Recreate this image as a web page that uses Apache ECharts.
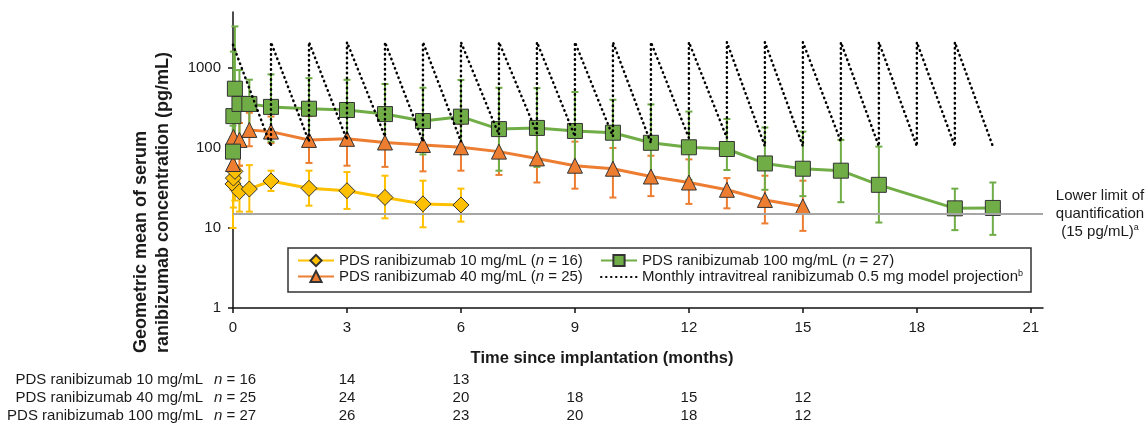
<!DOCTYPE html>
<html>
<head>
<meta charset="utf-8">
<script src="https://cdn.jsdelivr.net/npm/echarts@6/dist/echarts.min.js"></script>
<style>
html, body { margin: 0; background: #fff; }
#main { width: 1147px; height: 427px; }
</style>
</head>
<body>
<div id="main"></div>
<script>
// PDS ranibizumab 10 mg/mL  (months, geometric mean pg/mL, error bar low / high)
let t10 = [0, 0.01, 0.05, 0.17, 0.43, 1, 2, 3, 4, 5, 6];
let mean10 = [35.5, 42, 51, 28.4, 30.7, 38.7, 31.3, 29.2, 24.1, 20, 19.4];
let lo10 = [10, 18, 22, 16, 16, 29, 19, 17.3, 13.2, 10.2, 12];
let hi10 = [55, 62, 75, 60, 61, 52, 52, 50, 45, 39, 31];

// PDS ranibizumab 40 mg/mL
let t40 = [0, 0.01, 0.17, 0.43, 1, 2, 3, 4, 5, 6, 7, 8, 9, 10, 11, 12, 13, 14, 15];
let mean40 = [63, 137, 126, 168, 160, 126, 130, 117, 109, 102, 90, 74, 60, 55, 44, 37, 30, 22.4, 18.6];
let lo40 = [30, 60, 60, 105, 115, 65, 60, 58, 51, 52, 46, 37, 31, 24, 25, 20, 17.6, 11.4, 9.2];
let hi40 = [100, 300, 205, 275, 247, 250, 245, 230, 210, 200, 175, 145, 120, 100, 80, 72, 42, 45, 39];

// PDS ranibizumab 100 mg/mL
let t100 = [0, 0.01, 0.05, 0.17, 0.43, 1, 2, 3, 4, 5, 6, 7, 8, 9, 10, 11, 12, 13, 14, 15, 16, 17, 19, 20];
let mean100 = [90, 250, 550, 355, 355, 326, 309, 298, 265, 217, 246, 172, 178, 163, 155, 116, 102, 97, 64, 55, 52, 34.6, 17.6, 17.8];
let lo100 = [45, 120, 110, 130, 150, 120, 125, 115, 120, 83, 87, 52, 58, 60, 55, 45, 40, 53, 30, 25, 21, 11.7, 9.4, 8.2];
let hi100 = [190, 1600, 3300, 940, 713, 830, 745, 710, 630, 565, 708, 565, 560, 500, 400, 350, 285, 230, 180, 160, 126, 104, 31, 37];

// monthly intravitreal model projection: peak right after each injection, trough before the next
let modelMonth = [0, 1, 2, 3, 4, 5, 6, 7, 8, 9, 10, 11, 12, 13, 14, 15, 16, 17, 18, 19, 20];
let modelPeak = [1950, 2100, 2100, 2100, 2100, 2100, 2100, 2100, 2100, 2100, 2100, 2100, 2100, 2100, 2100, 2100, 2100, 2100, 2100, 2100, null];
let modelTrough = [null, 105, 120, 126, 139, 120, 120, 146, 153, 139, 139, 115, 133, 133, 105, 105, 120, 105, 105, 105, 105];

let lloq = 15;
let xTicks = [0, 3, 6, 9, 12, 15, 18, 21];
let yTicks = [1, 10, 100, 1000];

// numbers at risk table
let tableRows = ['PDS ranibizumab 10 mg/mL', 'PDS ranibizumab 40 mg/mL', 'PDS ranibizumab 100 mg/mL'];
let tableN0 = [16, 25, 27];
let tableMonths = [3, 6, 9, 12, 15];
let tableCounts = [
    [14, 13],
    [24, 20, 18, 15, 12],
    [26, 23, 20, 18, 12]
];

let name10 = 'PDS ranibizumab 10 mg/mL (n = 16)';
let name40 = 'PDS ranibizumab 40 mg/mL (n = 25)';
let name100 = 'PDS ranibizumab 100 mg/mL (n = 27)';
let nameModel = 'Monthly intravitreal ranibizumab 0.5 mg model projection';

let font = '"Liberation Sans", Arial, sans-serif';
let ink = '#1a1a1a';

let modelData = [];
for (let i = 0; i < modelMonth.length; i++) {
    if (modelTrough[i] != null) modelData.push([modelMonth[i], modelTrough[i]]);
    if (modelPeak[i] != null) modelData.push([modelMonth[i], modelPeak[i]]);
}

function pairs(t, v) { return t.map((x, i) => [x, v[i]]); }
function bars(t, lo, hi) { return t.map((x, i) => [x, lo[i], hi[i]]); }

function errBar(params, api) {
    let x = api.value(0);
    let top = api.coord([x, api.value(2)]);
    let bot = api.coord([x, api.value(1)]);
    let w = 3.5;
    let style = { stroke: api.visual('color'), lineWidth: 2 };
    return {
        type: 'group',
        children: [
            { type: 'line', shape: { x1: top[0], y1: top[1], x2: bot[0], y2: bot[1] }, style: style },
            { type: 'line', shape: { x1: top[0] - w, y1: top[1], x2: top[0] + w, y2: top[1] }, style: style },
            { type: 'line', shape: { x1: bot[0] - w, y1: bot[1], x2: bot[0] + w, y2: bot[1] }, style: style }
        ]
    };
}

let rich = {
    i: { fontStyle: 'italic', fontSize: 15, fontFamily: font, color: ink },
    sup: { fontSize: 9, fontFamily: font, color: ink, verticalAlign: 'top', padding: [0, 0, 7, 0] }
};

function legendFmt(name) {
    if (name === nameModel) return name + '{sup|b}';
    return name.replace('(n', '({i|n}');
}

let legendBase = {
    orient: 'vertical',
    top: 248,
    itemGap: 1,
    itemWidth: 36,
    itemHeight: 14,
    formatter: legendFmt,
    textStyle: { fontSize: 15, fontFamily: font, color: ink, rich: rich }
};

let option = {
    animation: false,
    backgroundColor: '#fff',
    grid: { left: 233, right: 104, top: 12, bottom: 119 },
    legend: [
        Object.assign({ left: 292, data: [name10, name40] }, legendBase),
        Object.assign({ left: 595, data: [name100, { name: nameModel, itemStyle: { opacity: 0 } }] }, legendBase)
    ],
    xAxis: {
        type: 'value',
        min: 0,
        max: 21.32,
        splitLine: { show: false },
        axisLine: { lineStyle: { color: '#111', width: 1.5 } },
        axisTick: { length: 5, customValues: xTicks, lineStyle: { color: '#111', width: 1.5 } },
        axisLabel: { customValues: xTicks, margin: 12, fontSize: 15, fontFamily: font, color: ink }
    },
    yAxis: {
        type: 'log',
        logBase: 10,
        min: 1,
        max: 5000,
        splitLine: { show: false },
        axisLine: { show: true, lineStyle: { color: '#111', width: 1.5 } },
        axisTick: { show: true, length: 5, customValues: yTicks, lineStyle: { color: '#111', width: 1.5 } },
        axisLabel: {
            customValues: yTicks, margin: 12, fontSize: 15, fontFamily: font, color: ink,
            formatter: v => String(Math.round(v))
        }
    },
    series: [
        {
            name: 'err10', type: 'custom', renderItem: errBar, data: bars(t10, lo10, hi10),
            encode: { x: 0, y: [1, 2] }, itemStyle: { color: '#FFC000' }, z: 1, silent: true,
            markLine: {
                silent: true, symbol: 'none', animation: false,
                label: { show: false },
                lineStyle: { color: '#A6A6A6', width: 2, type: 'solid' },
                data: [{ yAxis: lloq }]
            }
        },
        {
            name: 'err40', type: 'custom', renderItem: errBar, data: bars(t40, lo40, hi40),
            encode: { x: 0, y: [1, 2] }, itemStyle: { color: '#ED7D31' }, z: 1, silent: true
        },
        {
            name: 'err100', type: 'custom', renderItem: errBar, data: bars(t100, lo100, hi100),
            encode: { x: 0, y: [1, 2] }, itemStyle: { color: '#70AD47' }, z: 1, silent: true
        },
        {
            name: name10, type: 'line', data: pairs(t10, mean10), z: 3,
            symbol: 'diamond', symbolSize: 16, showAllSymbol: true,
            lineStyle: { color: '#FFC000', width: 3 },
            itemStyle: { color: '#FFC000', borderColor: '#333', borderWidth: 1 }
        },
        {
            name: name40, type: 'line', data: pairs(t40, mean40), z: 3,
            symbol: 'triangle', symbolSize: 15, showAllSymbol: true,
            lineStyle: { color: '#ED7D31', width: 3 },
            itemStyle: { color: '#ED7D31', borderColor: '#333', borderWidth: 1 }
        },
        {
            name: name100, type: 'line', data: pairs(t100, mean100), z: 3,
            symbol: 'rect', symbolSize: 15, showAllSymbol: true,
            lineStyle: { color: '#70AD47', width: 3 },
            itemStyle: { color: '#70AD47', borderColor: '#333', borderWidth: 1 }
        },
        {
            name: nameModel, type: 'line', data: modelData, z: 5,
            symbol: 'none',
            lineStyle: { color: '#000', width: 2.5, type: [0.5, 4.5], cap: 'round' },
            itemStyle: { color: '#000' }
        }
    ]
};

let chart = echarts.init(document.getElementById('main'));
chart.setOption(option);

let gx = m => chart.convertToPixel({ xAxisIndex: 0 }, m);
let gy = v => chart.convertToPixel({ yAxisIndex: 0 }, v);

let graphics = [
    {
        type: 'rect', z: 0,
        shape: { x: 288, y: 248, width: 743, height: 44 },
        style: { fill: '#fff', stroke: '#333', lineWidth: 1.5 }
    },
    {
        type: 'text', x: 152, y: 353, rotation: Math.PI / 2,
        style: {
            text: 'Geometric mean of serum\nranibizumab concentration (pg/mL)',
            font: 'bold 18px ' + font, fill: ink, align: 'left', verticalAlign: 'middle', lineHeight: 22
        }
    },
    {
        type: 'text', x: 602, y: 358,
        style: {
            text: 'Time since implantation (months)',
            font: 'bold 16.5px ' + font, fill: ink, align: 'center', verticalAlign: 'middle'
        }
    },
    {
        type: 'text', x: 1100, y: gy(lloq),
        style: {
            text: 'Lower limit of\nquantification\n(15 pg/mL){sup|a}',
            font: '15px ' + font, fill: ink, align: 'center', verticalAlign: 'middle', lineHeight: 18,
            rich: { sup: { fontSize: 9, fontFamily: font, fill: ink, verticalAlign: 'top', padding: [0, 0, 7, 0] } }
        }
    }
];

let rowY = [380, 398, 416];
tableRows.forEach((label, r) => {
    graphics.push({
        type: 'text', x: 203, y: rowY[r],
        style: { text: label, font: '15px ' + font, fill: ink, align: 'right', verticalAlign: 'middle' }
    });
    graphics.push({
        type: 'text', x: 214, y: rowY[r],
        style: {
            text: '{i|n} = ' + tableN0[r], font: '15px ' + font, fill: ink, align: 'left', verticalAlign: 'middle',
            rich: { i: { fontStyle: 'italic', fontSize: 15, fontFamily: font, fill: ink } }
        }
    });
    tableCounts[r].forEach((c, k) => {
        graphics.push({
            type: 'text', x: gx(tableMonths[k]), y: rowY[r],
            style: { text: String(c), font: '15px ' + font, fill: ink, align: 'center', verticalAlign: 'middle' }
        });
    });
});

chart.setOption({ graphic: graphics });
</script>
</body>
</html>
